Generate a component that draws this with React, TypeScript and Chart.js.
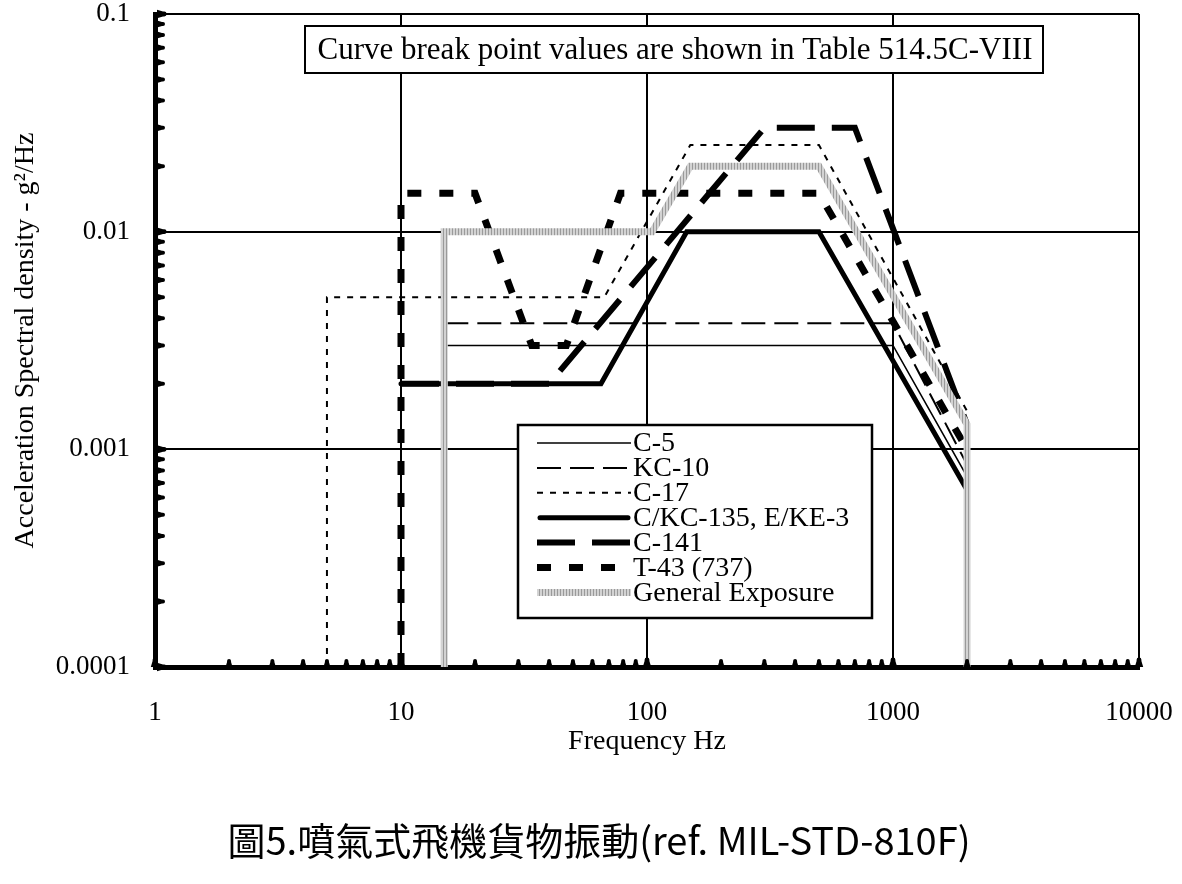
import React, { useEffect, useRef } from 'react';
import { Chart, registerables } from 'chart.js';

Chart.register(...registerables);

// ---------- data ----------
const X_TICKS = [1, 10, 100, 1000, 10000];
const Y_TICKS = [0.0001, 0.001, 0.01, 0.1];
const MINOR_MULTS = [2, 3, 4, 5, 6, 7, 8, 9];

const SERIES_NAMES = ['C-5', 'KC-10', 'C-17', 'C/KC-135, E/KE-3', 'C-141', 'T-43 (737)', 'General Exposure'];

const C5_FREQ = [15, 1000, 2000];
const C5_PSD = [0.003, 0.003, 0.00075];

const KC10_FREQ = [15, 1000, 2000];
const KC10_PSD = [0.0038, 0.0038, 0.00085];

const C17_FREQ = [5, 5, 67, 150, 500, 2000];
const C17_PSD = [0.0001, 0.005, 0.005, 0.025, 0.025, 0.0015];

const C135_FREQ = [10, 65, 145, 500, 2000];
const C135_PSD = [0.002, 0.002, 0.01, 0.01, 0.00065];

const C141_FREQ = [10, 40, 300, 700, 2000];
const C141_PSD = [0.002, 0.002, 0.03, 0.03, 0.0013];

const T43_FREQ = [10, 10, 20, 34, 47, 78, 500, 2000];
const T43_PSD = [0.0001, 0.015, 0.015, 0.003, 0.003, 0.015, 0.015, 0.001];

const GE_FREQ = [15, 15, 105, 150, 500, 2000, 2000];
const GE_PSD = [0.0001, 0.01, 0.01, 0.02, 0.02, 0.0013, 0.0001];

const SERIES_FREQ = [C5_FREQ, KC10_FREQ, C17_FREQ, C135_FREQ, C141_FREQ, T43_FREQ, GE_FREQ];
const SERIES_PSD = [C5_PSD, KC10_PSD, C17_PSD, C135_PSD, C141_PSD, T43_PSD, GE_PSD];

const TITLE_NOTE = 'Curve break point values are shown in Table 514.5C-VIII';
const X_TITLE = 'Frequency Hz';
const Y_TITLE = 'Acceleration Spectral density - g\u00B2/Hz';
const CAPTION = '圖5.噴氣式飛機貨物振動(ref. MIL-STD-810F)';

// ---------- styles ----------
const SERIF = '"Liberation Serif", "Times New Roman", serif';

type LineStyle = { width: number; dash: number[]; cap: CanvasLineCap; pattern?: boolean };
const LINE_STYLES: LineStyle[] = [
  { width: 1.6, dash: [], cap: 'butt' },
  { width: 2, dash: [24, 9], cap: 'butt' },
  { width: 2, dash: [6, 7], cap: 'butt' },
  { width: 5, dash: [], cap: 'round' },
  { width: 6, dash: [38, 17], cap: 'butt' },
  { width: 7, dash: [14, 18], cap: 'butt' },
  { width: 7, dash: [], cap: 'butt', pattern: true },
];

function makeStripePattern(ctx: CanvasRenderingContext2D): CanvasPattern | string {
  const c = document.createElement('canvas');
  c.width = 3;
  c.height = 3;
  const g = c.getContext('2d');
  if (!g) return '#bbbbbb';
  g.fillStyle = '#d3d3d3';
  g.fillRect(0, 0, 3, 3);
  g.fillStyle = '#9a9a9a';
  g.fillRect(2, 0, 1, 3);
  return ctx.createPattern(c, 'repeat') || '#bbbbbb';
}

function bottomTick(ctx: CanvasRenderingContext2D, px: number, yb: number, s: number) {
  ctx.beginPath();
  ctx.moveTo(px - 3.5 * s, yb);
  ctx.lineTo(px + 3.5 * s, yb);
  ctx.lineTo(px + 2 * s, yb - 5 * s);
  ctx.arc(px, yb - 6 * s, 2 * s, 0, Math.PI, true);
  ctx.lineTo(px - 2 * s, yb - 5 * s);
  ctx.closePath();
  ctx.fill();
}

function leftTick(ctx: CanvasRenderingContext2D, xl: number, py: number, s: number) {
  ctx.beginPath();
  ctx.moveTo(xl, py - 3.5 * s);
  ctx.lineTo(xl, py + 3.5 * s);
  ctx.lineTo(xl + 5 * s, py + 2 * s);
  ctx.arc(xl + 6 * s, py, 2 * s, Math.PI / 2, -Math.PI / 2, true);
  ctx.lineTo(xl + 5 * s, py - 2 * s);
  ctx.closePath();
  ctx.fill();
}

export default function App() {
  const ref = useRef<HTMLCanvasElement>(null);

  useEffect(() => {
    const canvas = ref.current;
    if (!canvas) return;
    const ctx0 = canvas.getContext('2d') as CanvasRenderingContext2D;
    const stripe = makeStripePattern(ctx0);

    const datasets = SERIES_NAMES.map((name, i) => {
      const st = LINE_STYLES[i];
      return {
        label: name,
        data: SERIES_FREQ[i].map((f, j) => ({ x: f, y: SERIES_PSD[i][j] })),
        borderColor: st.pattern ? stripe : '#000',
        backgroundColor: 'transparent',
        borderWidth: st.width,
        borderDash: st.dash,
        borderCapStyle: st.cap,
        borderJoinStyle: 'miter' as CanvasLineJoin,
        pointRadius: 0,
        tension: 0,
        fill: false,
        order: st.pattern ? 0 : 10 - i,
      };
    });

    const decor = {
      id: 'decor',
      afterDraw(chart: any) {
        const { ctx, chartArea: ca, scales } = chart;
        const xs = scales.x;
        const ys = scales.y;
        ctx.save();
        ctx.setLineDash([]);
        ctx.fillStyle = '#000';
        // minor / major tick marks on bottom axis
        for (let d = 0; d < X_TICKS.length - 1; d++) {
          for (const m of MINOR_MULTS) {
            bottomTick(ctx, xs.getPixelForValue(X_TICKS[d] * m), ca.bottom, 1);
          }
        }
        for (const v of X_TICKS) bottomTick(ctx, xs.getPixelForValue(v), ca.bottom, 1.2);
        // minor / major tick marks on left axis
        for (let d = 0; d < Y_TICKS.length - 1; d++) {
          for (const m of MINOR_MULTS) {
            leftTick(ctx, ca.left + 2, ys.getPixelForValue(Y_TICKS[d] * m), 1);
          }
        }
        for (const v of Y_TICKS) leftTick(ctx, ca.left + 2, ys.getPixelForValue(v), 1.2);

        // note box
        ctx.fillStyle = '#fff';
        ctx.fillRect(305, 26, 738, 47);
        ctx.strokeStyle = '#000';
        ctx.lineWidth = 2;
        ctx.strokeRect(305, 26, 738, 47);
        ctx.fillStyle = '#000';
        ctx.font = `31px ${SERIF}`;
        ctx.textAlign = 'center';
        ctx.textBaseline = 'middle';
        ctx.fillText(TITLE_NOTE, 675, 51);

        // legend box
        ctx.fillStyle = '#fff';
        ctx.fillRect(518, 425, 354, 193);
        ctx.strokeStyle = '#000';
        ctx.lineWidth = 2.5;
        ctx.strokeRect(518, 425, 354, 193);
        ctx.font = `28px ${SERIF}`;
        ctx.textAlign = 'left';
        ctx.textBaseline = 'middle';
        SERIES_NAMES.forEach((name, i) => {
          const st = LINE_STYLES[i];
          const yy = 443 + i * 24.9;
          ctx.save();
          ctx.beginPath();
          ctx.setLineDash(st.dash);
          ctx.lineWidth = st.width;
          ctx.lineCap = st.cap;
          ctx.strokeStyle = st.pattern ? stripe : '#000';
          ctx.moveTo(st.cap === 'round' ? 540 : 537, yy);
          ctx.lineTo(st.cap === 'round' ? 628 : 631, yy);
          ctx.stroke();
          ctx.restore();
          ctx.fillStyle = '#000';
          ctx.fillText(name, 633, yy + 1);
        });
        ctx.restore();
      },
    };

    const chart = new Chart(canvas, {
      type: 'line',
      data: { datasets: datasets as any },
      options: {
        animation: false,
        responsive: false,
        maintainAspectRatio: false,
        devicePixelRatio: 1,
        layout: { padding: { top: 14, right: 43, left: 0, bottom: 0 } },
        plugins: { legend: { display: false }, tooltip: { enabled: false }, title: { display: false } },
        scales: {
          x: {
            type: 'logarithmic',
            position: 'bottom',
            min: 1,
            max: 10000,
            afterBuildTicks: (s: any) => {
              s.ticks = X_TICKS.map((v) => ({ value: v }));
            },
            afterFit: (s: any) => {
              s.height = 217;
              s.paddingLeft = 0;
              s.paddingRight = 0;
              s.paddingTop = 0;
              s.paddingBottom = 0;
            },
            grid: { color: '#000', lineWidth: 2, drawTicks: false },
            border: { display: true, color: '#000', width: 5 },
            ticks: {
              callback: (v: any) => String(v),
              padding: 30,
              color: '#000',
              autoSkip: false,
              maxRotation: 0,
              font: { family: SERIF, size: 27 },
            },
            title: {
              display: true,
              text: X_TITLE,
              color: '#000',
              font: { family: SERIF, size: 28 },
              padding: { top: 0, bottom: 126 },
            },
          },
          y: {
            type: 'logarithmic',
            position: 'left',
            min: 0.0001,
            max: 0.1,
            afterBuildTicks: (s: any) => {
              s.ticks = Y_TICKS.map((v) => ({ value: v }));
            },
            afterFit: (s: any) => {
              s.width = 155;
              s.paddingLeft = 0;
              s.paddingRight = 0;
              s.paddingTop = 0;
              s.paddingBottom = 0;
            },
            grid: { color: '#000', lineWidth: 2, drawTicks: false },
            border: { display: true, color: '#000', width: 5 },
            ticks: {
              callback: (v: any) => String(v),
              padding: 25,
              color: '#000',
              autoSkip: false,
              font: { family: SERIF, size: 27 },
            },
            title: {
              display: true,
              text: Y_TITLE,
              color: '#000',
              font: { family: SERIF, size: 28 },
              padding: { top: 9, bottom: 0 },
            },
          },
        },
      } as any,
      plugins: [decor],
    });
    return () => chart.destroy();
  }, []);

  return (
    <div style={{ position: 'absolute', left: 0, top: 0, width: 1182, height: 884, background: '#fff' }}>
      <canvas ref={ref} width={1182} height={884} style={{ display: 'block', width: 1182, height: 884 }} />
      <div
        style={{
          position: 'absolute',
          left: 599,
          top: 816,
          transform: 'translateX(-50%)',
          whiteSpace: 'nowrap',
          fontFamily: '"Noto Sans CJK TC", "Noto Sans", sans-serif',
          fontSize: 38,
          lineHeight: '46px',
          color: '#000',
        }}
      >
        {CAPTION}
      </div>
    </div>
  );
}
